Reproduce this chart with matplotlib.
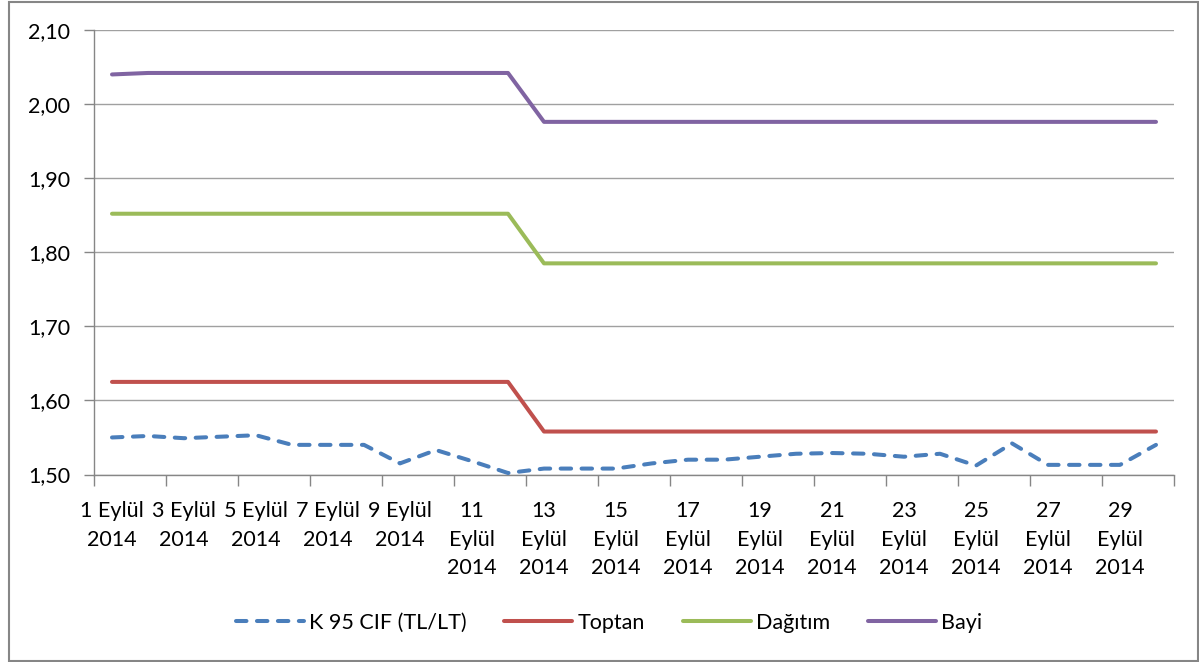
import matplotlib
matplotlib.use("Agg")
import matplotlib.pyplot as plt
from matplotlib.patches import Rectangle
from matplotlib.ticker import FixedLocator, FuncFormatter

plt.rcParams['font.family'] = ['Lato', 'DejaVu Sans']

days = [f"{d}" for d in range(1, 31)]
tick_labels = ["1 Eylül\n2014", "3 Eylül\n2014", "5 Eylül\n2014", "7 Eylül\n2014", "9 Eylül\n2014",
               "11\nEylül\n2014", "13\nEylül\n2014", "15\nEylül\n2014", "17\nEylül\n2014",
               "19\nEylül\n2014", "21\nEylül\n2014", "23\nEylül\n2014", "25\nEylül\n2014",
               "27\nEylül\n2014", "29\nEylül\n2014"]

k95_cif = [1.550, 1.552, 1.549, 1.551, 1.553, 1.540, 1.540, 1.540, 1.515, 1.533,
           1.518, 1.502, 1.508, 1.508, 1.508, 1.515, 1.520, 1.520, 1.524, 1.528,
           1.529, 1.528, 1.524, 1.528, 1.512, 1.542, 1.513, 1.513, 1.513, 1.540]
toptan = [1.625] * 12 + [1.558] * 18
dagitim = [1.852] * 12 + [1.785] * 18
bayi = [2.040] + [2.042] * 11 + [1.976] * 18

series_names = ["K 95 CIF (TL/LT)", "Toptan", "Dağıtım", "Bayi"]
colors = ["#4A7EBB", "#C0504D", "#9BBB59", "#8064A2"]

fig = plt.figure(figsize=(11.99, 6.62), dpi=100)
ax = fig.add_axes([94/1199, 1 - 474.5/662, (1174-94)/1199, (474.5-30)/662])

x = list(range(len(days)))
ax.plot(x, k95_cif, color=colors[0], lw=2.9, linestyle=(0, (2.6, 2.6)),
        dash_capstyle='round', label=series_names[0], zorder=3)
ax.plot(x, toptan, color=colors[1], lw=2.9, solid_capstyle='round', label=series_names[1], zorder=3)
ax.plot(x, dagitim, color=colors[2], lw=2.9, solid_capstyle='round', label=series_names[2], zorder=3)
ax.plot(x, bayi, color=colors[3], lw=2.9, solid_capstyle='round', label=series_names[3], zorder=3)

ax.set_xlim(-0.5, len(days) - 0.5)
ax.set_ylim(1.50, 2.10)
ax.set_yticks([1.50, 1.60, 1.70, 1.80, 1.90, 2.00, 2.10])
ax.yaxis.set_major_formatter(FuncFormatter(lambda v, p: f"{v:.2f}".replace('.', ',')))

ax.xaxis.set_major_locator(FixedLocator([i - 0.5 for i in range(0, len(days) + 1, 2)]))
ax.xaxis.set_major_formatter(FuncFormatter(lambda v, p: ""))
ax.xaxis.set_minor_locator(FixedLocator(list(range(0, len(days), 2))))
ax.set_xticklabels(tick_labels, minor=True, fontsize=15.5, linespacing=1.55)

gray = "#868686"
ax.tick_params(axis='x', which='major', length=8, width=1, color=gray, direction='out')
ax.tick_params(axis='x', which='minor', length=0, pad=19, labelcolor='#000000')
ax.tick_params(axis='y', length=7, width=1, color=gray, pad=10, labelsize=15.5)

ax.grid(axis='y', color='#A0A0A0', lw=1)
ax.set_axisbelow(True)
for s in ['top', 'right']:
    ax.spines[s].set_visible(False)
for s in ['left', 'bottom']:
    ax.spines[s].set_color(gray)
    ax.spines[s].set_linewidth(1)

leg = fig.legend(loc='center', bbox_to_anchor=(609/1199, 1 - 623/662), ncol=4, frameon=False,
                 fontsize=15.5, handlelength=3.15, handletextpad=0.25, columnspacing=1.75)

fig.patches.append(Rectangle((9/1199, 1.5/662), (1197.5-9)/1199, (660.5-1.5)/662,
                             transform=fig.transFigure, fill=False, edgecolor='#868686', lw=1.5))

fig.savefig("out.png", dpi=100)
